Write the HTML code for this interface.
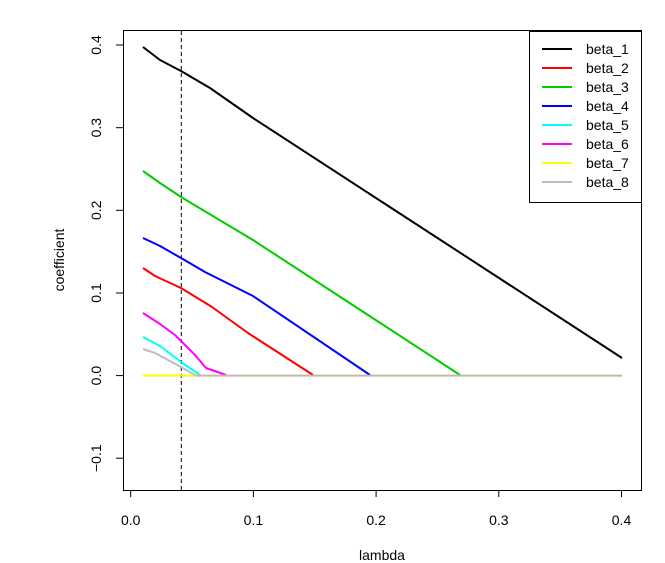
<!DOCTYPE html>
<html><head><style>body{margin:0;background:#fff}svg{display:block}</style></head><body>
<svg width="665" height="563" xmlns="http://www.w3.org/2000/svg" font-family="Liberation Sans, sans-serif">
<rect width="665" height="563" fill="#fff"/>
<rect x="123.5" y="30.5" width="518" height="460" fill="none" stroke="#000"/>
<g stroke="#000">
<line x1="130.7" y1="490" x2="130.7" y2="497"/><line x1="253.4" y1="490" x2="253.4" y2="497"/><line x1="376.1" y1="490" x2="376.1" y2="497"/><line x1="498.8" y1="490" x2="498.8" y2="497"/><line x1="621.5" y1="490" x2="621.5" y2="497"/>
<line x1="130.7" y1="490.5" x2="621.5" y2="490.5"/>
<line x1="116" y1="45" x2="123" y2="45"/><line x1="116" y1="127.7" x2="123" y2="127.7"/><line x1="116" y1="210.3" x2="123" y2="210.3"/><line x1="116" y1="293" x2="123" y2="293"/><line x1="116" y1="375.6" x2="123" y2="375.6"/><line x1="116" y1="458.2" x2="123" y2="458.2"/>
<line x1="123.5" y1="45" x2="123.5" y2="458.2"/>
</g>
<g font-size="14" text-anchor="middle">
<text x="130.7" y="525">0.0</text><text x="253.4" y="525">0.1</text><text x="376.1" y="525">0.2</text><text x="498.8" y="525">0.3</text><text x="621.5" y="525">0.4</text>
<text transform="translate(101,45) rotate(-90)">0.4</text>
<text transform="translate(101,127.7) rotate(-90)">0.3</text>
<text transform="translate(101,210.3) rotate(-90)">0.2</text>
<text transform="translate(101,293) rotate(-90)">0.1</text>
<text transform="translate(101,375.6) rotate(-90)">0.0</text>
<text transform="translate(101,458.2) rotate(-90)">−0.1</text>
<text x="382" y="560">lambda</text>
<text transform="translate(64,260) rotate(-90)">coefficient</text>
</g>
<line x1="181.3" y1="31" x2="181.3" y2="490" stroke="#000" stroke-dasharray="4,3"/>
<g fill="none" stroke-width="2" stroke-linejoin="round">
<polyline stroke="#000" points="143,47 160,60 181,71 210,88 253,118 622,358"/>
<polyline stroke="#00cd00" points="143,171 160,183 181,197 253,240 460,375"/>
<polyline stroke="#0000ff" points="143,238 160,246 181,258 205,272 253,296 370,375"/>
<polyline stroke="#ff0000" points="143,268 155,276 181,288 212,307 248,333 313,375"/>
<polyline stroke="#ff00ff" points="143,313 160,324 175,335 195,355 206,368 226,375"/>
<polyline stroke="#00ffff" points="143,337 160,346 181,362 200,375"/>
<polyline stroke="#ffff00" points="143,375.6 200,375.6"/>
<polyline stroke="#bebebe" points="143,349 155,353 181,367 195,375"/>
<polyline stroke="#c4b8a4" points="195,375.6 622,375.6"/>
</g>
<rect x="529.5" y="31.5" width="112" height="171" fill="#fff" stroke="#000"/>
<g stroke-width="2">
<line x1="542" y1="49" x2="572" y2="49" stroke="#000"/>
<line x1="542" y1="68" x2="572" y2="68" stroke="#f00"/>
<line x1="542" y1="87" x2="572" y2="87" stroke="#00cd00"/>
<line x1="542" y1="106" x2="572" y2="106" stroke="#00f"/>
<line x1="542" y1="125" x2="572" y2="125" stroke="#0ff"/>
<line x1="542" y1="144" x2="572" y2="144" stroke="#f0f"/>
<line x1="542" y1="163" x2="572" y2="163" stroke="#ff0"/>
<line x1="542" y1="182" x2="572" y2="182" stroke="#bebebe"/>
</g>
<g font-size="14">
<text x="586" y="54">beta_1</text><text x="586" y="73">beta_2</text><text x="586" y="92">beta_3</text><text x="586" y="111">beta_4</text>
<text x="586" y="130">beta_5</text><text x="586" y="149">beta_6</text><text x="586" y="168">beta_7</text><text x="586" y="187">beta_8</text>
</g>
</svg>
</body></html>
